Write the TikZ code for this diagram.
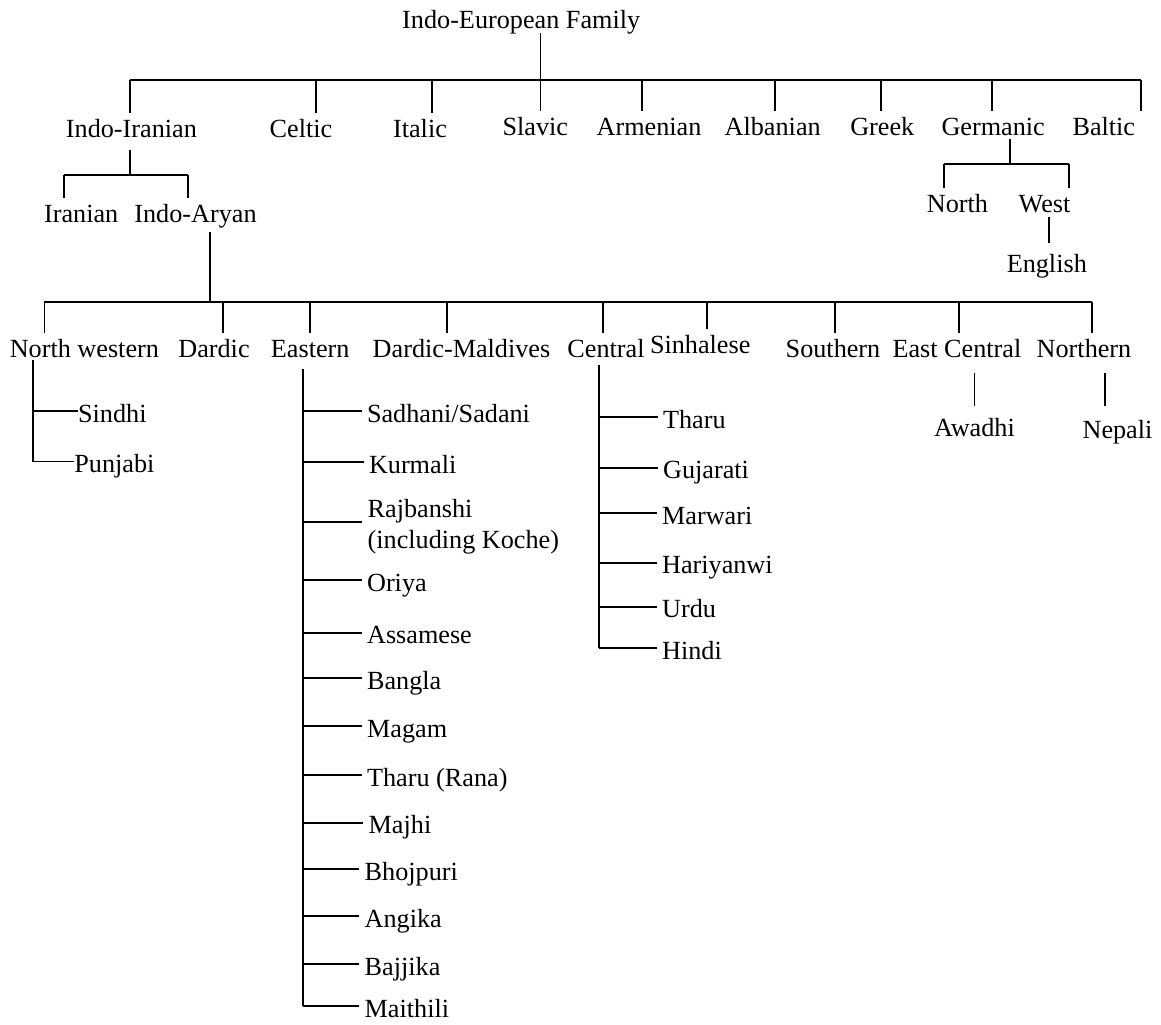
\documentclass[tikz,border=0pt]{standalone}
\usepackage{fontspec}
\setmainfont{Liberation Serif}
\tikzset{
  langfont/.style={font=\fontsize{13.1}{15.5}\selectfont},
  lang/.style={langfont,inner xsep=0pt,inner ysep=3pt,
               text height=9pt,text depth=3pt,anchor=base},
  leaf/.style={langfont,inner xsep=2.5pt,inner ysep=0pt,
               text height=12pt,text depth=1pt,anchor=west},
  leaftwo/.style={langfont,inner xsep=2.5pt,inner ysep=0pt,
                  align=left,anchor=base west},
  branch/.style={line width=0.9pt},
}
\begin{document}
\begin{tikzpicture}[x=0.5pt,y=-0.5pt]
  \useasboundingbox (0,0) rectangle (1161,1024);

  % family and first branches
  \node[lang](root)     at (521.2,28.3) {Indo-European Family};
  \node[lang](indoiran) at (131.4,137.3){Indo-Iranian};
  \node[lang](celtic)   at (301,137.3)  {Celtic};
  \node[lang](italic)   at (420,137.3)  {Italic};
  \node[lang](slavic)   at (535.3,135)  {Slavic};
  \node[lang](armenian) at (649,135)    {Armenian};
  \node[lang](albanian) at (772.7,135)  {Albanian};
  \node[lang](greek)    at (882.3,135)  {Greek};
  \node[lang](germanic) at (993.2,135)  {Germanic};
  \node[lang](baltic)   at (1103.8,135) {Baltic};

  \node[lang](iranian)   at (81.2,222.3)  {Iranian};
  \node[lang](indoaryan) at (195.5,222.3) {Indo-Aryan};
  \node[lang](north)     at (957.5,212.3) {North};
  \node[lang](west)      at (1044.5,212.3){West};
  \node[lang](english)   at (1046.8,272.3){English};

  % indo-aryan groups
  \node[lang](nwest)       at (84.4,357.3)  {North western};
  \node[lang](dardic)      at (214,357.3)   {Dardic};
  \node[lang](eastern)     at (310.2,357.3) {Eastern};
  \node[lang](dmaldives)   at (461.5,357.3) {Dardic-Maldives};
  \node[lang](central)     at (606,357.3)   {Central};
  \node[lang](sinhalese)   at (700.2,353.3) {Sinhalese};
  \node[lang](southern)    at (833,357.3)   {Southern};
  \node[lang](eastcentral) at (956.9,357.3) {East Central};
  \node[lang](northern)    at (1084,357.3)  {Northern};
  \node[lang](awadhi)      at (974.5,436.7) {Awadhi};
  \node[lang](nepali)      at (1117.5,438.3){Nepali};

  % languages
  \node[leaf,inner xsep=0pt](sindhi)  at (77.7,411) {Sindhi};
  \node[leaf,inner xsep=0pt](punjabi) at (74,461.5) {Punjabi};

  \node[leaf](sadhani)   at (361.6,411)   {Sadhani/Sadani};
  \node[leaf](kurmali)   at (363.6,462.3) {Kurmali};
  \node[leaftwo](rajbanshi) at (362.3,548.3){Rajbanshi\\(including Koche)};
  \node[leaf](oriya)     at (361.7,580)   {Oriya};
  \node[leaf](assamese)  at (361.7,632.7) {Assamese};
  \node[leaf](bangla)    at (361.7,678.3) {Bangla};
  \node[leaf](magam)     at (361.7,726)   {Magam};
  \node[leaf](tharurana) at (361.7,775)   {Tharu (Rana)};
  \node[leaf](majhi)     at (363.3,822.7) {Majhi};
  \node[leaf](bhojpuri)  at (359.3,869)   {Bhojpuri};
  \node[leaf](angika)    at (359.3,916)   {Angika};
  \node[leaf](bajjika)   at (359.3,964)   {Bajjika};
  \node[leaf](maithili)  at (359.3,1006)  {Maithili};

  \node[leaf](tharu)     at (657.7,417.3) {Tharu};
  \node[leaf](gujarati)  at (657.7,467.7) {Gujarati};
  \node[leaf](marwari)   at (656.7,513.3) {Marwari};
  \node[leaf](hariyanwi) at (656.7,562.7) {Hariyanwi};
  \node[leaf](urdu)      at (656.7,606.7) {Urdu};
  \node[leaf](hindi)     at (656.7,648.3) {Hindi};

  % junctions on the bars
  \coordinate (indoiran-j) at (129.7,80.3);
  \coordinate (celtic-j)   at (315.7,80.3);
  \coordinate (italic-j)   at (431.7,80.3);
  \coordinate (slavic-j)   at (540.4,80.3);
  \coordinate (armenian-j) at (641.6,80.3);
  \coordinate (albanian-j) at (774.6,80.3);
  \coordinate (greek-j)    at (881.2,80.3);
  \coordinate (germanic-j) at (992,80.3);
  \coordinate (baltic-j)   at (1140.7,80.3);

  \coordinate (iran-mid)    at (129.7,175);
  \coordinate (iranian-j)   at (64,175);
  \coordinate (indoaryan-j) at (188.3,175);

  \coordinate (germ-mid) at (1009.6,164.3);
  \coordinate (north-j)  at (943.7,164.3);
  \coordinate (west-j)   at (1068.6,164.3);

  \coordinate (ia-mid)        at (210,302.3);
  \coordinate (nwest-j)       at (44.4,302.3);
  \coordinate (dardic-j)      at (223.1,302.3);
  \coordinate (eastern-j)     at (310,302.3);
  \coordinate (dmaldives-j)   at (446.6,302.3);
  \coordinate (central-j)     at (603.3,302.3);
  \coordinate (sinhalese-j)   at (706.8,302.3);
  \coordinate (southern-j)    at (834.8,302.3);
  \coordinate (eastcentral-j) at (958.6,302.3);
  \coordinate (northern-j)    at (1092,302.3);

  \coordinate (nwest-v)   at (33,360);
  \coordinate (eastern-v) at (303,369.3);
  \coordinate (central-v) at (599,365);

  % top level
  \draw[branch,shorten <=-4pt](root.south -| slavic-j) -- (slavic-j);
  \draw[branch](indoiran-j) -- (baltic-j);
  \draw[branch](indoiran-j) -- (indoiran-j |- indoiran.north);
  \draw[branch](celtic-j)   -- (celtic-j |- celtic.north);
  \draw[branch](italic-j)   -- (italic-j |- italic.north);
  \draw[branch](slavic-j)   -- (slavic-j |- slavic.north);
  \draw[branch](armenian-j) -- (armenian-j |- armenian.north);
  \draw[branch](albanian-j) -- (albanian-j |- albanian.north);
  \draw[branch](greek-j)    -- (greek-j |- greek.north);
  \draw[branch](germanic-j) -- (germanic-j |- germanic.north);
  \draw[branch](baltic-j)   -- (baltic-j |- baltic.north);

  % indo-iranian
  \draw[branch](indoiran.south -| iran-mid) -- (iran-mid);
  \draw[branch](iranian-j) -- (indoaryan-j);
  \draw[branch](iranian-j)   -- (iranian-j |- iranian.north);
  \draw[branch](indoaryan-j) -- (indoaryan-j |- indoaryan.north);

  % germanic
  \draw[branch,shorten <=-4.3pt](germanic.south -| germ-mid) -- (germ-mid);
  \draw[branch](north-j) -- (west-j);
  \draw[branch](north-j) -- (north-j |- north.north);
  \draw[branch](west-j)  -- (west-j |- west.north);
  \draw[branch,shorten <=-3.8pt,shorten >=2.5pt]
    ([xshift=2.1pt]west.south) -- ([xshift=2.1pt]west.south |- english.north);

  % indo-aryan
  \draw[branch,shorten <=-1.3pt](indoaryan.south -| ia-mid) -- (ia-mid);
  \draw[branch](nwest-j) -- (northern-j);
  \draw[branch](nwest-j)       -- (nwest-j |- nwest.north);
  \draw[branch](dardic-j)      -- (dardic-j |- dardic.north);
  \draw[branch](eastern-j)     -- (eastern-j |- eastern.north);
  \draw[branch](dmaldives-j)   -- (dmaldives-j |- dmaldives.north);
  \draw[branch](central-j)     -- (central-j |- central.north);
  \draw[branch](sinhalese-j)   -- (sinhalese-j |- sinhalese.north);
  \draw[branch](southern-j)    -- (southern-j |- southern.north);
  \draw[branch](eastcentral-j) -- (eastcentral-j |- eastcentral.north);
  \draw[branch](northern-j)    -- (northern-j |- northern.north);
  \draw[branch,shorten <=1.8pt,shorten >=3pt]
    (awadhi.north |- eastcentral.south) -- (awadhi.north);
  \draw[branch,shorten <=1.8pt,shorten >=4pt]
    ([xshift=-6.2pt]nepali.north |- northern.south) -- ([xshift=-6.2pt]nepali.north);

  % north western list
  \draw[branch](nwest-v) -- (nwest-v |- punjabi.west);
  \draw[branch](nwest-v |- sindhi.west)  -- (sindhi.west);
  \draw[branch](nwest-v |- punjabi.west) -- (punjabi.west);

  % eastern list
  \draw[branch](eastern-v) -- (eastern-v |- maithili.west);
  \draw[branch](eastern-v |- sadhani.west)   -- (sadhani.west);
  \draw[branch](eastern-v |- kurmali.west)   -- (kurmali.west);
  \draw[branch]([yshift=2.35pt]eastern-v |- rajbanshi.west) -- ([yshift=2.35pt]rajbanshi.west);
  \draw[branch](eastern-v |- oriya.west)     -- (oriya.west);
  \draw[branch](eastern-v |- assamese.west)  -- (assamese.west);
  \draw[branch](eastern-v |- bangla.west)    -- (bangla.west);
  \draw[branch](eastern-v |- magam.west)     -- (magam.west);
  \draw[branch](eastern-v |- tharurana.west) -- (tharurana.west);
  \draw[branch](eastern-v |- majhi.west)     -- (majhi.west);
  \draw[branch](eastern-v |- bhojpuri.west)  -- (bhojpuri.west);
  \draw[branch](eastern-v |- angika.west)    -- (angika.west);
  \draw[branch](eastern-v |- bajjika.west)   -- (bajjika.west);
  \draw[branch](eastern-v |- maithili.west)  -- (maithili.west);

  % central list
  \draw[branch](central-v) -- (central-v |- hindi.west);
  \draw[branch](central-v |- tharu.west)     -- (tharu.west);
  \draw[branch](central-v |- gujarati.west)  -- (gujarati.west);
  \draw[branch](central-v |- marwari.west)   -- (marwari.west);
  \draw[branch](central-v |- hariyanwi.west) -- (hariyanwi.west);
  \draw[branch](central-v |- urdu.west)      -- (urdu.west);
  \draw[branch](central-v |- hindi.west)     -- (hindi.west);
\end{tikzpicture}
\end{document}
